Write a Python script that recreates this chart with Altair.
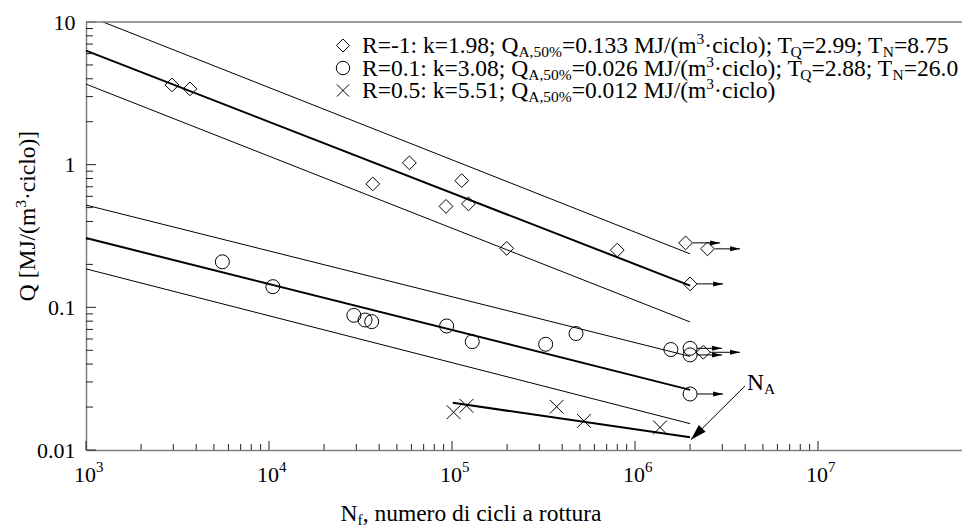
import altair as alt
import pandas as pd

W, H = 876, 428
X_DOMAIN = [1e3, 10 ** (3 + 876 / 183)]
Y_DOMAIN = [0.01, 10]
FONT = "Times New Roman, Liberation Serif, DejaVu Serif, serif"
GRAY = "#7f7f7f"

# ---------------- data ----------------
# R = -1 (diamonds)
rm1_fail_N = [2950, 3700, 36900, 58500, 113000, 92700, 123000, 199000, 800000]
rm1_fail_Q = [3.62, 3.40, 0.733, 1.03, 0.773, 0.510, 0.531, 0.259, 0.252]
rm1_run_N = [1.89e6, 2.49e6, 2.0e6, 2.36e6]
rm1_run_Q = [0.283, 0.257, 0.146, 0.0484]

# R = 0.1 (circles)
r01_fail_N = [5560, 10500, 29100, 33500, 36400, 93500, 129000, 325000, 476000, 1.57e6]
r01_fail_Q = [0.2085, 0.1396, 0.0879, 0.0815, 0.0794, 0.0740, 0.0575, 0.0551, 0.0655, 0.0506]
r01_run_N = [2.0e6, 2.0e6, 2.0e6]
r01_run_Q = [0.0516, 0.0464, 0.0247]

# R = 0.5 (crosses)
r05_fail_N = [1.02e5, 1.20e5, 3.73e5, 5.26e5, 1.37e6]
r05_fail_Q = [0.0184, 0.0204, 0.0201, 0.0160, 0.0144]

# run-out arrows
arrow_start_N = [2.07e6, 2.74e6, 2.18e6, 2.57e6, 2.18e6, 2.18e6, 2.18e6]
arrow_end_N = [2.92e6, 3.75e6, 3.03e6, 3.75e6, 2.99e6, 2.99e6, 3.03e6]
arrow_Q = [0.283, 0.257, 0.146, 0.0484, 0.0516, 0.0464, 0.0247]

# S-N curves (start / end points)
curve_name = ["R=-1 50%", "R=-1 90%", "R=-1 10%", "R=0.1 50%", "R=0.1 90%", "R=0.1 10%", "R=0.5 50%"]
curve_N1 = [1e3, 1.24e3, 1e3, 1e3, 1e3, 1e3, 1.01e5]
curve_Q1 = [6.3, 10.0, 3.67, 0.306, 0.521, 0.186, 0.0214]
curve_N2 = [2e6, 2e6, 2e6, 2e6, 2e6, 2e6, 2e6]
curve_Q2 = [0.142, 0.237, 0.079, 0.0264, 0.0453, 0.0153, 0.0123]

# N_A annotation arrow (from label to knee point)
na_N = [3.99e6, 2.02e6]
na_Q = [0.0281, 0.0118]

# axis ticks
x_decades = [1e3, 1e4, 1e5, 1e6, 1e7]
x_exponents = ["3", "4", "5", "6", "7"]
y_decades = [0.01, 0.1, 1, 10]

x_minor = [m * d for d in [1e3, 1e4, 1e5, 1e6] for m in range(2, 10)]
y_minor = [m * d for d in [0.01, 0.1, 1] for m in range(2, 10)]

# ---------------- text layout (Times metrics) ----------------
TW = {" ": 250, "%": 833, "(": 333, ")": 333, ",": 250, "-": 333, ".": 250, "/": 278,
      ":": 278, ";": 278, "=": 564, "A": 722, "J": 389, "M": 889, "N": 722, "Q": 722,
      "R": 667, "T": 611, "[": 333, "]": 333, "a": 444, "c": 444, "d": 500, "e": 444,
      "f": 333, "i": 278, "k": 500, "l": 278, "m": 778, "n": 500, "o": 500, "r": 333,
      "t": 278, "u": 500, "\u00b7": 250}
MAIN, SMALL = 23.5, 15.5
SHIFT = {"m": 0, "sub": 4, "sup": -9}


def tw(s, size):
    return sum(TW.get(c, 500) for c in s) * size / 1000.0


def layout(segs, x0, y0, rotated=False):
    rows, cum = [], 0.0
    for txt, kind in segs:
        size = MAIN if kind == "m" else SMALL
        if rotated:
            rows.append({"px": x0 + SHIFT[kind], "py": y0 - cum, "size": size, "angle": 270, "txt": txt})
        else:
            rows.append({"px": x0 + cum, "py": y0 + SHIFT[kind], "size": size, "angle": 0, "txt": txt})
        cum += tw(txt, size)
    return rows


leg1 = [("R=-1: k=1.98; Q", "m"), ("A,50%", "sub"), ("=0.133 MJ/(m", "m"), ("3", "sup"),
        ("\u00b7ciclo); T", "m"), ("Q", "sub"), ("=2.99; T", "m"), ("N", "sub"), ("=8.75", "m")]
leg2 = [("R=0.1: k=3.08; Q", "m"), ("A,50%", "sub"), ("=0.026 MJ/(m", "m"), ("3", "sup"),
        ("\u00b7ciclo); T", "m"), ("Q", "sub"), ("=2.88; T", "m"), ("N", "sub"), ("=26.0", "m")]
leg3 = [("R=0.5: k=5.51; Q", "m"), ("A,50%", "sub"), ("=0.012 MJ/(m", "m"), ("3", "sup"),
        ("\u00b7ciclo)", "m")]
xtitle = [("N", "m"), ("f", "sub"), (", numero di cicli a rottura", "m")]
ytitle = [("Q [MJ/(m", "m"), ("3", "sup"), ("\u00b7ciclo)]", "m")]
na_label = [("N", "m"), ("A", "sub")]

text_rows = []
text_rows += layout(leg1, 276, 31)
text_rows += layout(leg2, 276, 53.5)
text_rows += layout(leg3, 276, 76)
xt_w = sum(tw(t, MAIN if k == "m" else SMALL) for t, k in xtitle)
text_rows += layout(xtitle, 385 - xt_w / 2, 499)
yt_w = sum(tw(t, MAIN if k == "m" else SMALL) for t, k in ytitle)
text_rows += layout(ytitle, -51, 195 + yt_w / 2, rotated=True)
text_rows += layout(na_label, 661, 368)
text_df = pd.DataFrame(text_rows)

# ---------------- data frames ----------------
curves = pd.DataFrame({"name": curve_name, "N1": curve_N1, "Q1": curve_Q1,
                       "N2": curve_N2, "Q2": curve_Q2})
curves["w"] = [2.0 if "50%" in n else 1.0 for n in curve_name]

diam = pd.DataFrame({"N": rm1_fail_N + rm1_run_N, "Q": rm1_fail_Q + rm1_run_Q})
circ = pd.DataFrame({"N": r01_fail_N + r01_run_N, "Q": r01_fail_Q + r01_run_Q})
cros = pd.DataFrame({"N": r05_fail_N, "Q": r05_fail_Q})
arrows = pd.DataFrame({"N1": arrow_start_N, "N2": arrow_end_N, "Q": arrow_Q})
na_df = pd.DataFrame({"N1": [na_N[0]], "Q1": [na_Q[0]], "N2": [na_N[1]], "Q2": [na_Q[1]]})
xmaj = pd.DataFrame({"v": x_decades, "e": x_exponents})
xmin_df = pd.DataFrame({"v": x_minor})
ymaj = pd.DataFrame({"v": y_decades})
ymin_df = pd.DataFrame({"v": y_minor})

xs = alt.Scale(type="log", domain=X_DOMAIN, nice=False)
ys = alt.Scale(type="log", domain=Y_DOMAIN, nice=False)

ARROW = "M-2,-0.5L0,0L-2,0.5Z"
BIGARROW = "M-2,-0.6L0,0L-2,0.6Z"
CROSS = "M-1,-1L1,1M-1,1L1,-1"

y_axis = alt.Axis(values=y_decades, ticks=False, domain=True, domainColor=GRAY, domainWidth=1.5,
                  grid=False, title=None, labelFont=FONT, labelFontSize=22, labelColor="black",
                  labelPadding=11, labelFlush=False, labelOverlap=False, labelBaseline="middle",
                  labelExpr="datum.value < 0.05 ? '0.01' : datum.value < 0.5 ? '0.1' : datum.value < 5 ? '1' : '10'")
x_axis = alt.Axis(ticks=False, labels=False, domain=True, domainColor=GRAY, domainWidth=1.5,
                  grid=False, title=None)

base_lines = alt.Chart(curves).mark_rule(color="black").encode(
    x=alt.X("N1:Q", scale=xs, axis=x_axis),
    x2="N2:Q",
    y=alt.Y("Q1:Q", scale=ys, axis=y_axis),
    y2="Q2:Q",
    strokeWidth=alt.StrokeWidth("w:Q", scale=None, legend=None),
)


def pts(df, shape, size):
    return alt.Chart(df).mark_point(shape=shape, filled=False, color="black", strokeWidth=1,
                                    size=size, opacity=1).encode(
        x=alt.X("N:Q", scale=xs, axis=None), y=alt.Y("Q:Q", scale=ys, axis=None))


diam_l = pts(diam, "diamond", 190)
circ_l = pts(circ, "circle", 196)
cros_l = pts(cros, CROSS, 190)

arrow_lines = alt.Chart(arrows).mark_rule(color="black", strokeWidth=1).encode(
    x=alt.X("N1:Q", scale=xs, axis=None), x2="N2:Q",
    y=alt.Y("Q:Q", scale=ys, axis=None))
arrow_heads = alt.Chart(arrows).mark_point(shape=ARROW, filled=True, color="black", size=100,
                                           opacity=1, strokeWidth=0).encode(
    x=alt.X("N2:Q", scale=xs, axis=None), y=alt.Y("Q:Q", scale=ys, axis=None))

na_line = alt.Chart(na_df).mark_rule(color="black", strokeWidth=1).encode(
    x=alt.X("N1:Q", scale=xs, axis=None), x2="N2:Q",
    y=alt.Y("Q1:Q", scale=ys, axis=None), y2="Q2:Q")
na_head = alt.Chart(na_df).mark_point(shape=BIGARROW, filled=True, color="black", size=256,
                                      angle=135, opacity=1, strokeWidth=0).encode(
    x=alt.X("N2:Q", scale=xs, axis=None), y=alt.Y("Q2:Q", scale=ys, axis=None))

# inward ticks
xmaj_t = alt.Chart(xmaj).mark_rule(color="#222222", strokeWidth=1).encode(
    x=alt.X("v:Q", scale=xs, axis=None), y=alt.value(H), y2=alt.value(H - 9))
xmin_t = alt.Chart(xmin_df).mark_rule(color="#222222", strokeWidth=1).encode(
    x=alt.X("v:Q", scale=xs, axis=None), y=alt.value(H), y2=alt.value(H - 6))
ymaj_t = alt.Chart(ymaj).mark_rule(color="#222222", strokeWidth=1).encode(
    y=alt.Y("v:Q", scale=ys, axis=None), x=alt.value(0), x2=alt.value(10))
ymin_t = alt.Chart(ymin_df).mark_rule(color="#222222", strokeWidth=1).encode(
    y=alt.Y("v:Q", scale=ys, axis=None), x=alt.value(0), x2=alt.value(7))

# x tick labels 10^n
xlab = alt.Chart(xmaj).mark_text(font=FONT, fontSize=22, align="center", baseline="alphabetic",
                                 dx=-1, color="black").encode(
    x=alt.X("v:Q", scale=xs, axis=None), y=alt.value(460), text=alt.value("10"))
xexp = alt.Chart(xmaj).mark_text(font=FONT, fontSize=15, align="left", baseline="alphabetic",
                                 dx=10, color="black").encode(
    x=alt.X("v:Q", scale=xs, axis=None), y=alt.value(450), text="e:N")

# top frame line
top = alt.Chart(pd.DataFrame({"a": [0]})).mark_rule(color=GRAY, strokeWidth=1.5).encode(
    x=alt.value(0), x2=alt.value(W), y=alt.value(0))

# legend markers
one = pd.DataFrame({"a": [0]})
lm1 = alt.Chart(one).mark_point(shape="diamond", filled=False, color="black", size=170,
                                strokeWidth=1, opacity=1).encode(x=alt.value(257), y=alt.value(23.5))
lm2 = alt.Chart(one).mark_point(shape="circle", filled=False, color="black", size=180,
                                strokeWidth=1, opacity=1).encode(x=alt.value(257), y=alt.value(46))
lm3 = alt.Chart(one).mark_point(shape=CROSS, filled=False, color="black", size=150,
                                strokeWidth=1, opacity=1).encode(x=alt.value(257), y=alt.value(68.5))

texts = alt.Chart(text_df).mark_text(font=FONT, align="left", baseline="alphabetic",
                                     color="black").encode(
    x=alt.X("px:Q", scale=None, axis=None),
    y=alt.Y("py:Q", scale=None, axis=None),
    size=alt.Size("size:Q", scale=None, legend=None),
    angle=alt.Angle("angle:Q", scale=None),
    text="txt:N",
)

chart = alt.layer(
    base_lines, xmaj_t, xmin_t, ymaj_t, ymin_t, top,
    arrow_lines, arrow_heads, diam_l, circ_l, cros_l, na_line, na_head,
    xlab, xexp, lm1, lm2, lm3, texts,
).resolve_scale(x="independent", y="independent").properties(
    width=W, height=H,
    autosize=alt.AutoSizeParams(type="none"),
    padding={"left": 86, "top": 22, "right": 0, "bottom": 77},
).configure_view(stroke=None).configure(background="white")

chart.save("out.html", embed_options={"renderer": "svg", "actions": False})
